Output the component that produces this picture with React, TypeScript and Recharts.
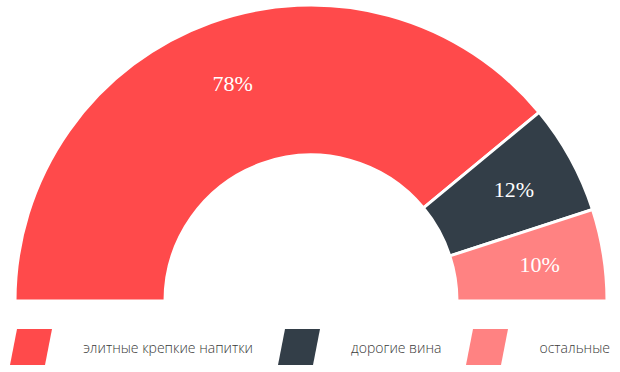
import { Legend, Pie, PieChart, Cell } from "recharts";

const categories = ["элитные крепкие напитки", "дорогие вина", "остальные"];
const shares = [78, 12, 10];
const colors = ["#FF4A4B", "#333E48", "#FF8282"];

const data = categories.map((name, i) => ({ name, value: shares[i] }));

const RADIAN = Math.PI / 180;

const renderLabel = (props: any) => {
  const { cx, cy, midAngle, innerRadius, outerRadius, value } = props;
  const r = innerRadius + (outerRadius - innerRadius) * 0.57;
  const x = cx + r * Math.cos(-midAngle * RADIAN);
  const y = cy + r * Math.sin(-midAngle * RADIAN);
  return (
    <text
      x={x}
      y={y}
      fill="#fff"
      textAnchor="middle"
      dominantBaseline="central"
      style={{ fontFamily: "'Liberation Serif', serif", fontSize: 22 }}
    >
      {`${value}%`}
    </text>
  );
};

// legend drawn in data order, with slanted swatches
const SkewLegend = () => (
  <div
    style={{
      display: "flex",
      justifyContent: "space-between",
      alignItems: "center",
      width: 600,
      paddingLeft: 10,
      fontFamily: "'Open Sans', sans-serif",
      fontWeight: 300,
      fontSize: 14,
      color: "#3a3a3a",
    }}
  >
    {categories.map((name, i) => (
      <div key={name} style={{ display: "flex", alignItems: "center" }}>
        <svg width={42} height={36} style={{ marginRight: 31 }}>
          <polygon points="7,0 42,0 35,36 0,36" fill={colors[i]} />
        </svg>
        <span>{name}</span>
      </div>
    ))}
  </div>
);

export default function App() {
  return (
    <div style={{ position: "absolute", left: 0, top: 0, width: 620, height: 372 }}>
      <PieChart width={620} height={372} margin={{ top: 0, right: 0, bottom: 0, left: 0 }}>
        <Pie
          data={data}
          dataKey="value"
          nameKey="name"
          cx={311}
          cy={301}
          startAngle={180}
          endAngle={0}
          innerRadius={146}
          outerRadius={296}
          stroke="#fff"
          strokeWidth={3}
          label={renderLabel}
          labelLine={false}
          isAnimationActive={false}
        >
          {data.map((d, i) => (
            <Cell key={d.name} fill={colors[i]} />
          ))}
        </Pie>
        <Legend
          content={<SkewLegend />}
          wrapperStyle={{ position: "absolute", left: 0, top: 329, width: 620 }}
        />
      </PieChart>
    </div>
  );
}
